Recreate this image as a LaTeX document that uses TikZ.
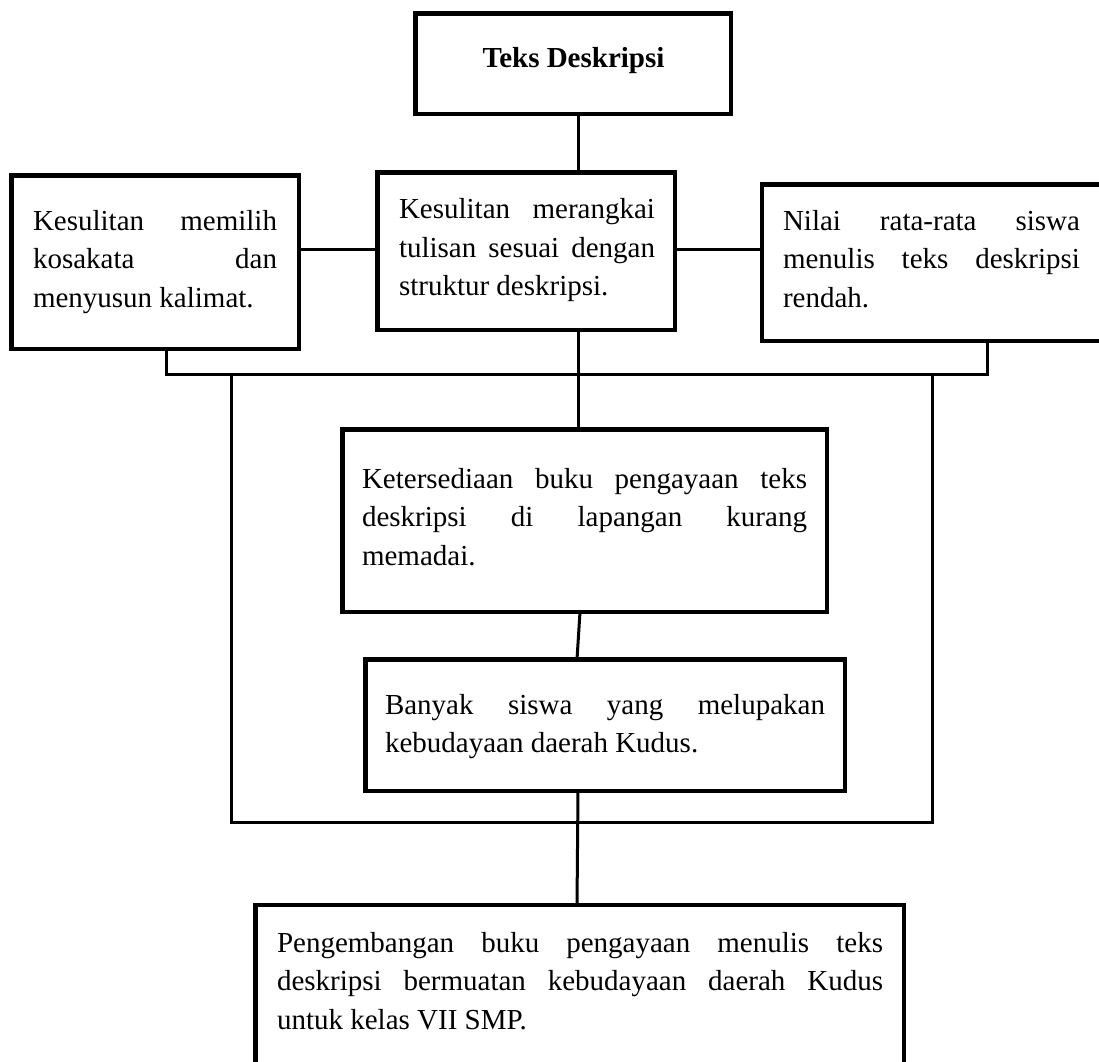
\documentclass[tikz,border=0pt]{standalone}
\usepackage{fontspec}
\setmainfont{Liberation Serif}
\newcommand{\jl}[2]{{\spaceskip=0pt\xspaceskip=0pt\relax\makebox[#1][s]{#2}}}
\newcommand{\ns}{\spaceskip=0pt\xspaceskip=0pt\relax}
\begin{document}
\begin{tikzpicture}[x=1pt,y=-1pt,
  boxst/.style={draw=black, line width=4.5pt, inner sep=0pt, outer sep=0pt, rectangle},
  txt/.style={font=\fontsize{29pt}{38.5pt}\selectfont, inner sep=0pt, outer sep=0pt, align=left, anchor=base west},
  link/.style={line width=3pt}]
\useasboundingbox (0,0) rectangle (1099,1061);
\fill[white] (0,0) rectangle (1099,1061);
% boxes
\node[boxst, minimum width=315.5pt, minimum height=100.5pt] (top) at (573,63.5) {};
\node[boxst, minimum width=287.5pt, minimum height=173.5pt] (left) at (155,262) {};
\node[boxst, minimum width=297.5pt, minimum height=157.5pt] (mid) at (526,251) {};
\node[boxst, minimum width=367.75pt, minimum height=156.5pt] (right) at (946.1,262.5) {};
\node[boxst, minimum width=484.5pt, minimum height=182.5pt] (avail) at (584.5,520.5) {};
\node[boxst, minimum width=479.5pt, minimum height=131.5pt] (forget) at (605,725) {};
\node[boxst, minimum width=648.5pt, minimum height=194.75pt] (goal) at (579.5,1002.6) {};
% texts
\node[txt, font=\fontsize{29pt}{38.5pt}\selectfont\bfseries, anchor=base] (ttop) at (573.5,67) {\ns Teks Deskripsi};
\node[txt, text width=244pt] (tleft) at (33,230) {\ns\jl{244pt}{Kesulitan memilih}\\\jl{244pt}{kosakata dan}\\\ns menyusun kalimat.};
\node[txt, text width=256pt] (tmid) at (399,218.5) {\ns\jl{256pt}{Kesulitan merangkai}\\\jl{256pt}{tulisan sesuai dengan}\\\ns struktur deskripsi.};
\node[txt, text width=297pt] (tright) at (783,230) {\ns\jl{297pt}{Nilai rata-rata siswa}\\\jl{297pt}{menulis teks deskripsi}\\\ns rendah.};
\node[txt, text width=445pt] (tavail) at (362,488) {\ns\jl{445pt}{Ketersediaan buku pengayaan teks}\\\jl{445pt}{deskripsi di lapangan kurang}\\\ns memadai.};
\node[txt, text width=440pt] (tforget) at (385,714) {\ns\jl{440pt}{Banyak siswa yang melupakan}\\\ns kebudayaan daerah Kudus.};
\node[txt, text width=606pt] (tgoal) at (277,952) {\ns\jl{606pt}{Pengembangan buku pengayaan menulis teks}\\\jl{606pt}{deskripsi bermuatan kebudayaan daerah Kudus}\\\ns untuk kelas VII SMP.};
% helper coordinates
\coordinate (sp) at (578,0);
\coordinate (row) at (0,249);
\coordinate (busL) at (166,374);
\coordinate (busR) at (987,374);
\coordinate (frTL) at (231,374);
\coordinate (frBL) at (231,822);
\coordinate (frBR) at (932,822);
\coordinate (frTR) at (932,374);
\coordinate (a1) at (580,0);
\coordinate (a2) at (577,0);
% connectors
\draw[link] (top.south -| sp) -- (mid.north -| sp);
\draw[link] (left.east |- row) -- (mid.west |- row);
\draw[link] (mid.east |- row) -- (right.west |- row);
\draw[link] (left.south -| busL) -- (busL) -- (busR) -- (right.south -| busR);
\draw[link] (mid.south -| sp) -- (avail.north -| sp);
\draw[link] (frTL) -- (frBL) -- (frBR) -- (frTR);
\draw[link] (avail.south -| a1) -- (forget.north -| a2);
\draw[link] (forget.south -| sp) -- (goal.north -| a2);
\end{tikzpicture}
\end{document}
